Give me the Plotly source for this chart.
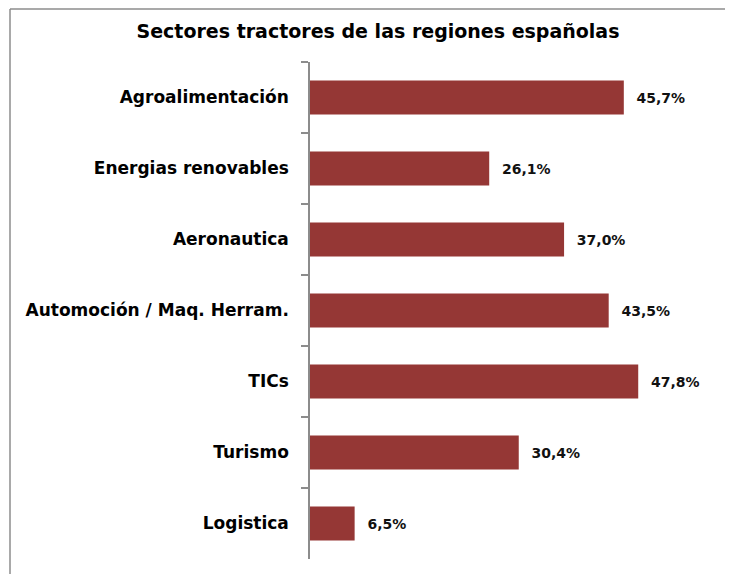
import plotly.graph_objects as go

# ---------- datos ----------
sectores = [
    "Agroalimentación",
    "Energias renovables",
    "Aeronautica",
    "Automoción / Maq. Herram.",
    "TICs",
    "Turismo",
    "Logistica",
]
porcentajes = [45.7, 26.1, 37.0, 43.5, 47.8, 30.4, 6.5]
etiquetas = ["45,7%", "26,1%", "37,0%", "43,5%", "47,8%", "30,4%", "6,5%"]

# ---------- geometría (la página añade 8 px de margen) ----------
OFF = 8
W, H = 733 - OFF, 574 - OFF
L, R, T, B = 310 - OFF, 11, 62 - OFF, 15
pw, ph = W - L - R, H - T - B


def px_x(v):
    return (v - OFF - L) / pw


def px_y(v):
    return 1 + (T - (v - OFF)) / ph


# ---------- figura ----------
fig = go.Figure(
    go.Bar(
        x=porcentajes,
        y=sectores,
        orientation="h",
        marker=dict(color="#953735", line=dict(width=0)),
        width=0.48,
        text=["\u00a0\u00a0" + t for t in etiquetas],
        textposition="outside",
        constraintext="none",
        cliponaxis=False,
        textfont=dict(family="DejaVu Sans", size=14, color="#111111", weight="bold"),
    )
)

# marco del gráfico (recortado a la derecha y abajo)
fig.add_shape(type="line", xref="paper", yref="paper",
              x0=px_x(10), x1=px_x(760), y0=px_y(9), y1=px_y(9),
              line=dict(color="#8c8c8c", width=1.5))
fig.add_shape(type="line", xref="paper", yref="paper",
              x0=px_x(10), x1=px_x(10), y0=px_y(9), y1=px_y(600),
              line=dict(color="#8c8c8c", width=1.5))

fig.update_layout(
    title=dict(
        text="<b>Sectores tractores de las regiones españolas</b>",
        x=(378 - OFF) / W, xanchor="center",
        y=1 - (31 - OFF) / H, yanchor="middle",
        font=dict(family="DejaVu Sans", size=19, color="#000000"),
    ),
    xaxis=dict(
        range=[0, 60],
        visible=False,
    ),
    yaxis=dict(
        autorange="reversed",
        showline=True,
        linecolor="#8c8c8c",
        linewidth=1.5,
        ticks="outside",
        tickson="boundaries",
        ticklen=7,
        tickcolor="#8c8c8c",
        tickwidth=1.5,
        ticklabelstandoff=16,
        tickfont=dict(family="DejaVu Sans", size=17, color="#000000", weight="bold"),
        showgrid=False,
    ),
    bargap=0.52,
    showlegend=False,
    plot_bgcolor="white",
    paper_bgcolor="white",
    margin=dict(l=L, r=R, t=T, b=B, autoexpand=False),
    width=W,
    height=H,
)

fig.write_html("out.html")
